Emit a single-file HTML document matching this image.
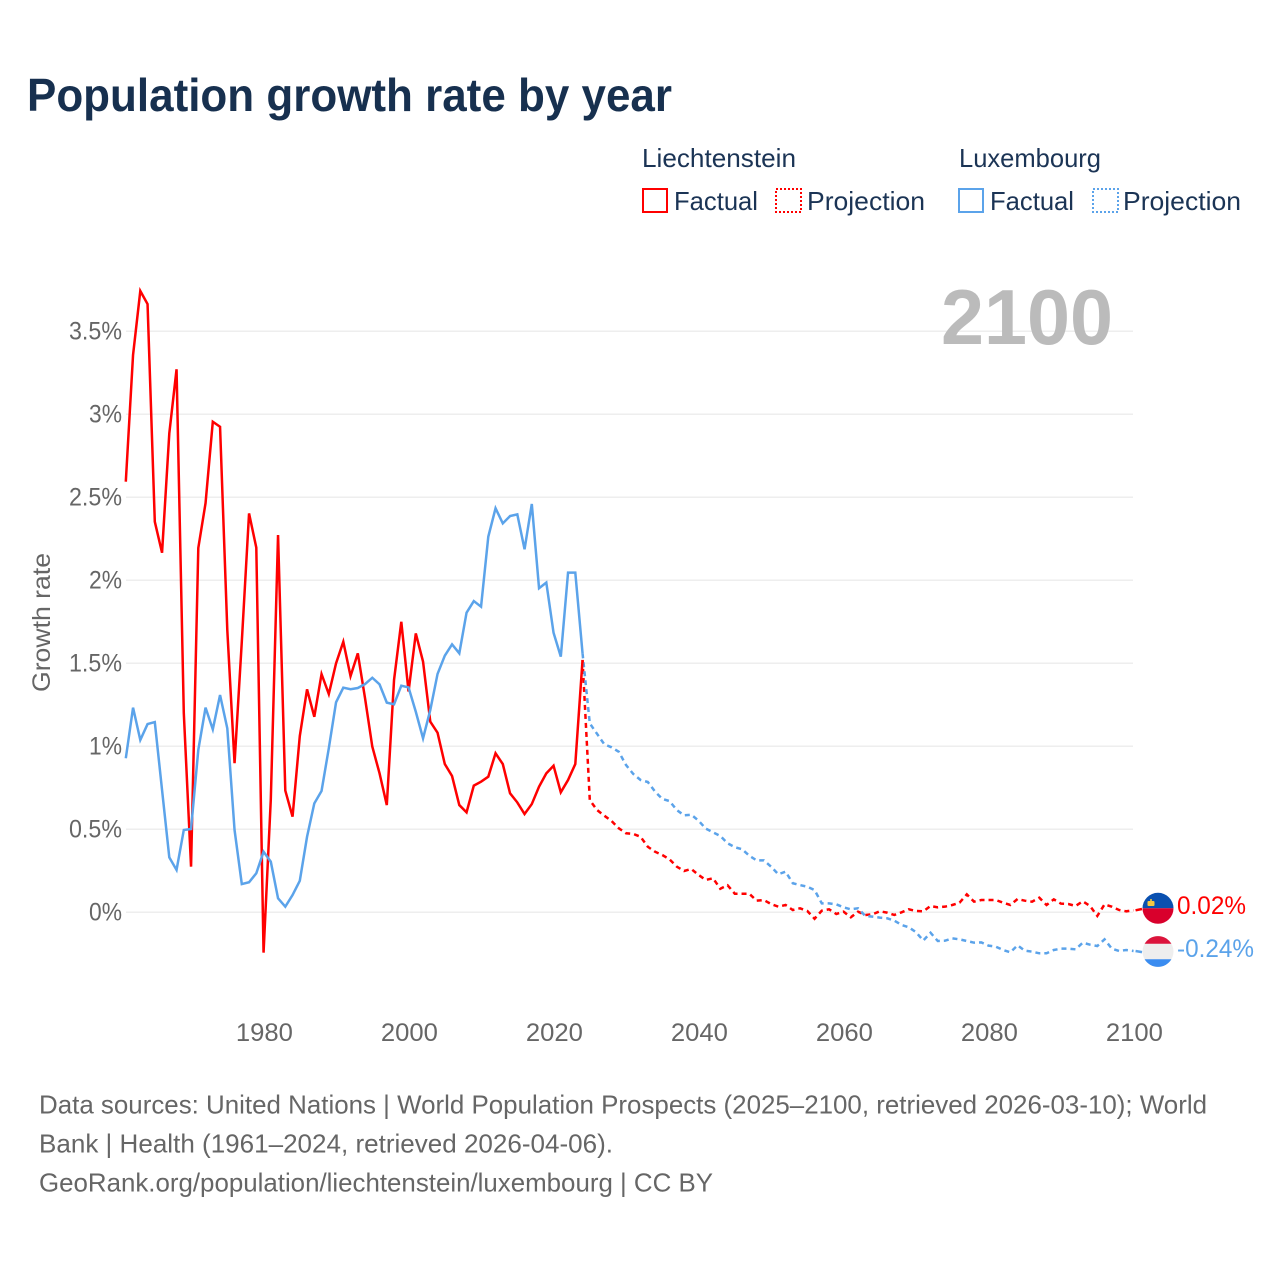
<!DOCTYPE html>
<html lang="en">
<head>
<meta charset="utf-8">
<title>Population growth rate by year</title>
<style>
html,body{margin:0;padding:0;background:#fff;}
svg{display:block;font-family:"Liberation Sans",sans-serif;}
</style>
</head>
<body>
<svg id="chart" xmlns="http://www.w3.org/2000/svg" width="1280" height="1280" viewBox="0 0 1280 1280">
  <rect x="0" y="0" width="1280" height="1280" fill="#ffffff"/>
  <text x="27" y="111" font-size="46" font-weight="700" fill="#17304f" textLength="645" lengthAdjust="spacingAndGlyphs">Population growth rate by year</text>

  <g font-size="26" fill="#1b3455">
    <text x="642" y="167" textLength="154" lengthAdjust="spacingAndGlyphs">Liechtenstein</text>
    <text x="959" y="167" textLength="142" lengthAdjust="spacingAndGlyphs">Luxembourg</text>
    <g>
      <rect x="643" y="189" width="24" height="23" fill="none" stroke="#ff0000" stroke-width="2"/>
      <text x="674" y="210" textLength="84" lengthAdjust="spacingAndGlyphs">Factual</text>
    </g>
    <g>
      <rect x="776" y="189" width="25" height="23" fill="none" stroke="#ff0000" stroke-width="2" stroke-dasharray="2 2"/>
      <text x="807" y="210" textLength="118" lengthAdjust="spacingAndGlyphs">Projection</text>
    </g>
    <g>
      <rect x="959" y="189" width="24" height="23" fill="none" stroke="#5ba3ea" stroke-width="2"/>
      <text x="990" y="210" textLength="84" lengthAdjust="spacingAndGlyphs">Factual</text>
    </g>
    <g>
      <rect x="1093" y="189" width="25" height="23" fill="none" stroke="#5ba3ea" stroke-width="2" stroke-dasharray="2 2"/>
      <text x="1123" y="210" textLength="118" lengthAdjust="spacingAndGlyphs">Projection</text>
    </g>
  </g>

  <g id="grid"></g>
  <g id="yAxis"></g>
  <g id="xAxis"></g>

  <text x="941" y="344" font-size="78" font-weight="700" fill="#bbbbbb" textLength="172" lengthAdjust="spacingAndGlyphs">2100</text>
  <text transform="translate(50,692) rotate(-90)" font-size="25" fill="#666666" textLength="139" lengthAdjust="spacingAndGlyphs">Growth rate</text>

  <g id="series"></g>

  <g>
    <path d="M1142.5 908.3a15.5 15.5 0 0 1 31 0z" fill="#0a50b0"/>
    <path d="M1142.5 908.3a15.5 15.5 0 0 0 31 0z" fill="#d9002c"/>
    <rect x="1147.5" y="901" width="7" height="5" rx="1" fill="#f5c842"/>
    <rect x="1150.2" y="899" width="1.6" height="2.5" fill="#f5c842"/>
  </g>
  <g>
    <circle cx="1158" cy="951.5" r="15.5" fill="#eeeeee"/>
    <path d="M1144.6 943.8A15.5 15.5 0 0 1 1171.4 943.8z" fill="#dc143c"/>
    <path d="M1144.6 959.2A15.5 15.5 0 0 0 1171.4 959.2z" fill="#3a8cf0"/>
  </g>
  <text x="1177" y="914" font-size="25" fill="#ff0000" textLength="69" lengthAdjust="spacingAndGlyphs">0.02%</text>
  <text x="1177" y="957" font-size="25" fill="#5ba3ea" textLength="77" lengthAdjust="spacingAndGlyphs">-0.24%</text>

  <g font-size="26" fill="#666666">
    <text x="39" y="1113.5" textLength="1168" lengthAdjust="spacingAndGlyphs">Data sources: United Nations | World Population Prospects (2025–2100, retrieved 2026-03-10); World</text>
    <text x="39" y="1152.5" textLength="574" lengthAdjust="spacingAndGlyphs">Bank | Health (1961–2024, retrieved 2026-04-06).</text>
    <text x="39" y="1191.5" textLength="674" lengthAdjust="spacingAndGlyphs">GeoRank.org/population/liechtenstein/luxembourg | CC BY</text>
  </g>
</svg>
<script>
var xTicks = [1980, 2000, 2020, 2040, 2060, 2080, 2100];
var yTicks = [0, 0.5, 1, 1.5, 2, 2.5, 3, 3.5];
var yTickLabels = ["0%", "0.5%", "1%", "1.5%", "2%", "2.5%", "3%", "3.5%"];
var factualStartYear = 1961;
var projectionStartYear = 2024;
var liechtensteinEndValue = 0.02;
var luxembourgEndValue = -0.24;
var liechtensteinFactual = [2.594,3.357,3.743,3.664,2.353,2.166,2.885,3.271,1.2,0.275,2.195,2.465,2.955,2.925,1.7,0.898,1.63,2.403,2.197,-0.243,0.68,2.273,0.733,0.576,1.062,1.343,1.178,1.435,1.315,1.5,1.63,1.423,1.56,1.289,0.998,0.837,0.646,1.4,1.75,1.33,1.68,1.51,1.148,1.082,0.893,0.821,0.646,0.602,0.763,0.787,0.817,0.958,0.893,0.717,0.662,0.592,0.652,0.757,0.837,0.883,0.723,0.797,0.893,1.52];
var liechtensteinProjection = [1.52,0.676,0.616,0.582,0.55,0.506,0.476,0.472,0.455,0.395,0.365,0.345,0.319,0.275,0.249,0.261,0.225,0.195,0.205,0.142,0.163,0.112,0.112,0.112,0.07,0.074,0.05,0.034,0.044,0.014,0.024,0.008,-0.039,0.01,0.018,-0.01,0.004,-0.03,0.004,-0.016,-0.012,0.006,-0.002,-0.016,0,0.018,0.008,0.006,0.038,0.03,0.034,0.044,0.058,0.108,0.064,0.074,0.074,0.074,0.058,0.044,0.08,0.07,0.064,0.088,0.044,0.078,0.052,0.05,0.038,0.066,0.038,-0.022,0.048,0.034,0.014,0.006,0.012];
var luxembourgFactual = [0.928,1.233,1.038,1.134,1.146,0.737,0.331,0.255,0.496,0.502,0.978,1.233,1.102,1.309,1.108,0.496,0.17,0.181,0.235,0.365,0.305,0.084,0.034,0.104,0.19,0.455,0.656,0.731,0.988,1.265,1.353,1.344,1.351,1.375,1.413,1.373,1.263,1.253,1.365,1.355,1.208,1.048,1.219,1.436,1.546,1.614,1.56,1.805,1.875,1.841,2.263,2.434,2.343,2.387,2.397,2.187,2.46,1.952,1.986,1.684,1.54,2.046,2.046,1.56];
var luxembourgProjection = [1.56,1.138,1.075,1.012,0.994,0.967,0.887,0.833,0.797,0.785,0.727,0.683,0.67,0.616,0.584,0.588,0.552,0.504,0.482,0.46,0.416,0.392,0.38,0.341,0.313,0.313,0.275,0.229,0.245,0.175,0.164,0.154,0.134,0.054,0.054,0.048,0.03,0.018,0.024,-0.022,-0.026,-0.032,-0.036,-0.05,-0.076,-0.09,-0.12,-0.17,-0.123,-0.173,-0.171,-0.157,-0.163,-0.173,-0.183,-0.181,-0.201,-0.207,-0.227,-0.241,-0.199,-0.231,-0.237,-0.247,-0.247,-0.227,-0.219,-0.219,-0.223,-0.183,-0.195,-0.203,-0.163,-0.219,-0.233,-0.227,-0.233];

var NS = "http://www.w3.org/2000/svg";
var RED = "#ff0000";
var BLUE = "#5ba3ea";

function xScale(year) { return 125.8 + (year - 1961) * 7.25; }
function yScale(value) { return 912.3 - value * 166; }

function seriesPath(values, startYear) {
  var d = "";
  for (var i = 0; i < values.length; i++) {
    d += (i === 0 ? "M" : "L") + xScale(startYear + i).toFixed(2) + " " + yScale(values[i]).toFixed(2);
  }
  return d;
}

var gridGroup = document.getElementById("grid");
var yAxisGroup = document.getElementById("yAxis");
var xAxisGroup = document.getElementById("xAxis");
var seriesGroup = document.getElementById("series");

yTicks.forEach(function (tick, i) {
  var line = document.createElementNS(NS, "line");
  
  
  line.setAttribute("x1", 126);
  line.setAttribute("x2", 1133);
  line.setAttribute("y1", yScale(tick));
  line.setAttribute("y2", yScale(tick));
  line.setAttribute("stroke", "#eeeeee");
  line.setAttribute("stroke-width", 1.5);
  gridGroup.appendChild(line);

  var label = document.createElementNS(NS, "text");
  
  
  var str = yTickLabels[i];
  var width = str.length > 2 ? 53 : 33;
  label.setAttribute("x", 122 - width);
  label.setAttribute("y", yScale(tick) + 8);
  label.setAttribute("font-size", 25);
  label.setAttribute("fill", "#666666");
  label.setAttribute("textLength", width);
  label.setAttribute("lengthAdjust", "spacingAndGlyphs");
  label.textContent = str;
  yAxisGroup.appendChild(label);
});

xTicks.forEach(function (tick) {
  var label = document.createElementNS(NS, "text");
  
  
  label.setAttribute("x", xScale(tick) - 28.5 + 0.8);
  label.setAttribute("y", 1041);
  label.setAttribute("font-size", 25);
  label.setAttribute("fill", "#666666");
  label.setAttribute("textLength", 57);
  label.setAttribute("lengthAdjust", "spacingAndGlyphs");
  label.textContent = String(tick);
  xAxisGroup.appendChild(label);
});

function addLine(name, values, startYear, color, dashed) {
  var path = document.createElementNS(NS, "path");
  
  
  path.setAttribute("d", seriesPath(values, startYear));
  path.setAttribute("fill", "none");
  path.setAttribute("stroke", color);
  path.setAttribute("stroke-width", 2.5);
  path.setAttribute("stroke-linejoin", "miter");
  if (dashed) { path.setAttribute("stroke-dasharray", "5 4"); }
  seriesGroup.appendChild(path);
}

addLine("liechtenstein-projection-line", liechtensteinProjection, projectionStartYear, RED, true);
addLine("luxembourg-projection-line", luxembourgProjection, projectionStartYear, BLUE, true);
addLine("liechtenstein-factual-line", liechtensteinFactual, factualStartYear, RED, false);
addLine("luxembourg-factual-line", luxembourgFactual, factualStartYear, BLUE, false);

function addConnector(name, value, endValue, color) {
  var line = document.createElementNS(NS, "line");
  
  
  line.setAttribute("x1", xScale(2100) + 2);
  line.setAttribute("x2", 1142);
  line.setAttribute("y1", yScale(value));
  line.setAttribute("y2", yScale(endValue));
  line.setAttribute("stroke", color);
  line.setAttribute("stroke-width", 2.5);
  seriesGroup.appendChild(line);
}

addConnector("liechtenstein-end-connector", liechtensteinProjection[liechtensteinProjection.length - 1], liechtensteinEndValue, RED);
addConnector("luxembourg-end-connector", luxembourgProjection[luxembourgProjection.length - 1], luxembourgEndValue, BLUE);
</script>
</body>
</html>
